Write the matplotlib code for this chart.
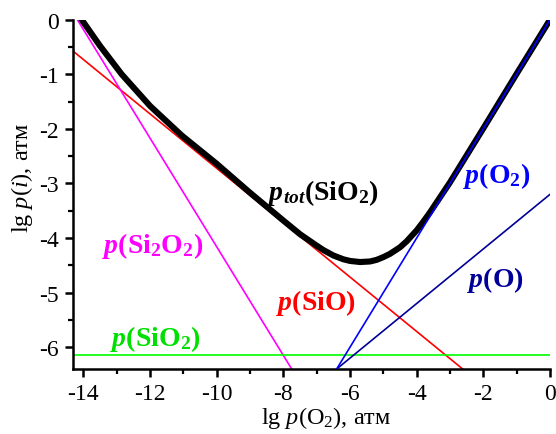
import matplotlib
matplotlib.use("Agg")
import matplotlib.pyplot as plt
from matplotlib.ticker import MultipleLocator

plt.rcParams['font.family'] = ['Liberation Serif', 'DejaVu Serif']
plt.rcParams['mathtext.fontset'] = 'custom'
plt.rcParams['mathtext.rm'] = 'Liberation Serif'
plt.rcParams['mathtext.it'] = 'Liberation Serif:italic'
plt.rcParams['mathtext.bf'] = 'Liberation Serif:bold'
plt.rcParams['mathtext.bfit'] = 'Liberation Serif:italic:bold'
plt.rcParams['axes.unicode_minus'] = False

# partial pressures, lg p vs lg p(O2)
sio_x = [-14.32, -2.62]
sio_y = [-0.57, -6.4]
si2o2_x = [-14.18, -7.75]
si2o2_y = [0.0, -6.4]
sio2_x = [-14.32, 0.0]
sio2_y = [-6.15, -6.15]
o2_x = [-6.4, 0.0]
o2_y = [-6.4, 0.0]
o_x = [-6.4, 0.0]
o_y = [-6.4, -3.2]

ptot_x = [-14.05, -13.5, -12.85, -12.0, -11.05, -10.0, -9.0, -8.0, -7.5, -7.0,
          -6.8, -6.5, -6.2, -6.0, -5.7, -5.4, -5.2, -5.0, -4.8, -4.5, -4.3,
          -4.0, -3.8, -3.6, -3.0, -2.0, -1.0, 0.0]
ptot_y = [0.0, -0.48, -1.0, -1.58, -2.12, -2.64, -3.17, -3.68, -3.93, -4.14,
          -4.22, -4.32, -4.39, -4.42, -4.44, -4.43, -4.40, -4.35, -4.29, -4.17, -4.06,
          -3.86, -3.70, -3.53, -2.98, -1.99, -0.99, 0.0]

W, H = 556, 435
fig = plt.figure(figsize=(W / 100, H / 100), dpi=100)
ax = fig.add_axes([72.7 / W, 1 - 370 / H, (550 - 72.7) / W, (370 - 20.7) / H])

ax.plot(sio_x, sio_y, color='#ff0000', lw=1.2)
ax.plot(si2o2_x, si2o2_y, color='#ff00ff', lw=1.2)
ax.plot(sio2_x, sio2_y, color='#00ff00', lw=1.2)
ax.plot(o2_x, o2_y, color='#0000ff', lw=1.2, zorder=4)
ax.plot(o_x, o_y, color='#000099', lw=1.2)
ax.plot(ptot_x, ptot_y, color='black', lw=4.4, zorder=3, solid_joinstyle='round')

ax.set_xlim(-14.32, 0)
ax.set_ylim(-6.4, 0)
ax.xaxis.set_major_locator(MultipleLocator(2))
ax.xaxis.set_minor_locator(MultipleLocator(1))
ax.yaxis.set_major_locator(MultipleLocator(1))
ax.yaxis.set_minor_locator(MultipleLocator(0.5))
ax.tick_params(which='major', length=6, width=1.8, labelsize=17, direction='out', pad=4)
ax.tick_params(which='minor', length=3.5, width=1.6, direction='out')
for s in ['top', 'right']:
    ax.spines[s].set_visible(False)
for s in ['left', 'bottom']:
    ax.spines[s].set_linewidth(1.8)

fig.text(326 / W, 1 - 418 / H, r'lg $\mathit{p}$(O$_2$), атм', fontsize=17.5,
         ha='center', va='center')
fig.text(22 / W, 1 - 178 / H, r'lg $\mathit{p}$($\mathit{i}$), атм', fontsize=17.5,
         ha='center', va='center', rotation=90)

fs = 20
fig.text(323 / W, 1 - 193 / H, r'$\mathbfit{p}_{\mathbfit{tot}}\mathbf{(SiO_2)}$',
         fontsize=fs, ha='center', va='center', color='black')
fig.text(497 / W, 1 - 176 / H, r'$\mathbfit{p}\mathbf{(O_2)}$',
         fontsize=fs, ha='center', va='center', color='#0000ff')
fig.text(495 / W, 1 - 280 / H, r'$\mathbfit{p}\mathbf{(O)}$',
         fontsize=fs, ha='center', va='center', color='#000099')
fig.text(316 / W, 1 - 303 / H, r'$\mathbfit{p}\mathbf{(SiO)}$',
         fontsize=fs, ha='center', va='center', color='#ff0000')
fig.text(153 / W, 1 - 246 / H, r'$\mathbfit{p}\mathbf{(Si_2O_2)}$',
         fontsize=fs, ha='center', va='center', color='#ff00ff')
fig.text(155 / W, 1 - 339 / H, r'$\mathbfit{p}\mathbf{(SiO_2)}$',
         fontsize=fs, ha='center', va='center', color='#00e000')

fig.savefig('out.png', dpi=100)
